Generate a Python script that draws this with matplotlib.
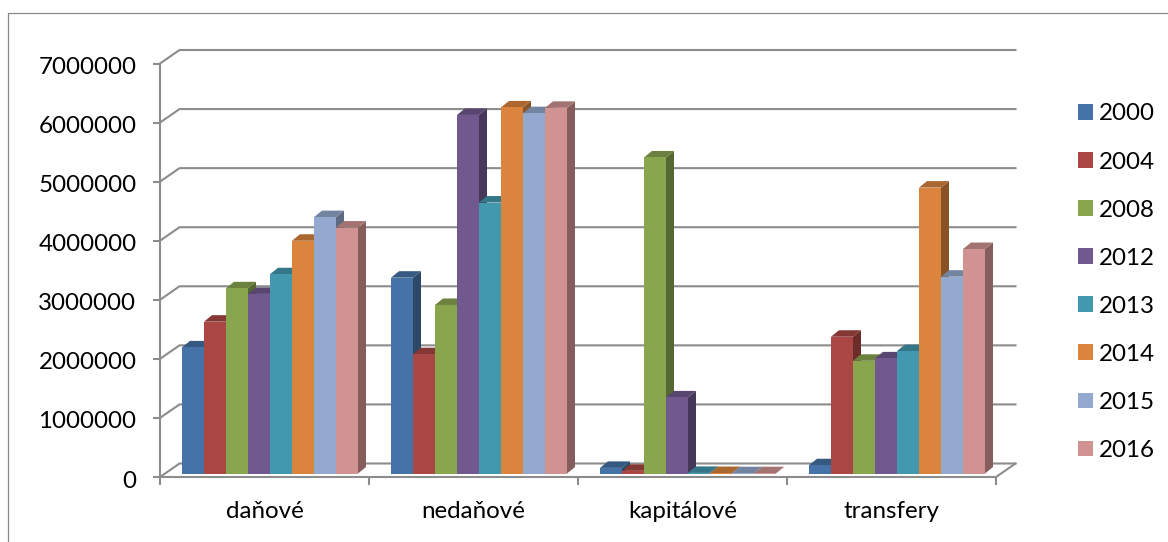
import matplotlib
matplotlib.use('Agg')
import matplotlib.pyplot as plt
import matplotlib.colors as mcolors
from matplotlib.lines import Line2D
from matplotlib.patches import Patch, Polygon
from matplotlib.transforms import Affine2D, IdentityTransform

categories = ['daňové', 'nedaňové', 'kapitálové', 'transfery']
years = ['2000', '2004', '2008', '2012', '2013', '2014', '2015', '2016']
colors = ['#4572A7', '#AA4643', '#89A54E', '#71588F', '#4198AF', '#DB843D', '#93A9CF', '#D19392']

v2000 = [2135000, 3315000, 95000, 140000]
v2004 = [2570000, 2020000, 45000, 2315000]
v2008 = [3135000, 2853000, 5350000, 1908000]
v2012 = [3040000, 6070000, 1288000, 1949000]
v2013 = [3373000, 4587000, 10000, 2073000]
v2014 = [3940000, 6197000, 8000, 4840000]
v2015 = [4340000, 6100000, 5000, 3332000]
v2016 = [4163000, 6190000, 5000, 3800000]
series = [v2000, v2004, v2008, v2012, v2013, v2014, v2015, v2016]

W, H = 1168, 542
GREY = '#8c8c8c'
FONT_SIZE = 17.4
plt.rcParams['font.family'] = ['Lato', 'Open Sans', 'DejaVu Sans']

fig = plt.figure(figsize=(W / 100, H / 100), dpi=100)
ax = fig.add_axes([160 / W, (H - 477) / H, 836 / W, 413.5 / H])
ax.set_xlim(0, 4)
ax.set_ylim(0, 7000000)

# chart border, only top and left show up in the screenshot
fig.add_artist(Line2D([7.5 / W, 7.5 / W, 1], [0, (H - 12.5) / H, (H - 12.5) / H], color='#8a8a8a', lw=0.9))

for s in ['top', 'right']:
    ax.spines[s].set_visible(False)
for s in ['left', 'bottom']:
    ax.spines[s].set_color(GREY)
    ax.spines[s].set_linewidth(1.5)

yticks = list(range(0, 7000001, 1000000))
ax.set_yticks(yticks)
ax.set_yticklabels([str(t) for t in yticks])
ax.set_xticks(range(5))
ax.set_xticklabels([])
ax.set_xticks([i + 0.5 for i in range(4)], minor=True)
ax.set_xticklabels(categories, minor=True)
ax.tick_params(axis='y', length=5, width=1.5, color=GREY, pad=12, labelsize=FONT_SIZE, labelcolor='black')
ax.tick_params(axis='x', which='major', length=5.5, width=1.5, color=GREY)
ax.tick_params(axis='x', which='minor', length=0, pad=17, labelsize=FONT_SIZE, labelcolor='black')

# labels sit a bit lower than lato centres them
for label in ax.get_yticklabels():
    label.set_transform(label.get_transform() + Affine2D().translate(0, -2))

# back wall gridlines with the diagonal running in from the value axis
WALL_DX, WALL_DY = 19.5, 13.5
for t in yticks:
    x0, y0 = ax.transData.transform((0, t))
    x1, y1 = ax.transData.transform((4, t))
    ax.plot([x0, x0 + WALL_DX, x1 + WALL_DX], [y0, y0 + WALL_DY, y0 + WALL_DY],
            transform=IdentityTransform(), color=GREY, lw=1.5, clip_on=False, zorder=1)
x1, y1 = ax.transData.transform((4, 0))
ax.plot([x1, x1 + WALL_DX], [y1, y1 + WALL_DY], transform=IdentityTransform(),
        color=GREY, lw=1.5, clip_on=False, zorder=1)

# bars stand in the middle of the floor, so shift them off the axis plane
BAR_DX, BAR_DY = 5.5, 3.5
DEPTH_X, DEPTH_Y = 8, 6.5
bar_w = 22 / 209
front = ax.transData + Affine2D().translate(BAR_DX, BAR_DY)


def shade(color, f):
    r, g, b = mcolors.to_rgb(color)
    return (r * f, g * f, b * f)


zo = 3
for cat in range(len(categories)):
    for k, values in enumerate(series):
        left = cat + 0.5 + (k - 4) * bar_w
        val = values[cat]
        (xa, ya), (xb, yb) = front.transform([(left, 0), (left + bar_w, val)])
        top = [(xa, yb), (xb, yb), (xb + DEPTH_X, yb + DEPTH_Y), (xa + DEPTH_X, yb + DEPTH_Y)]
        side = [(xb, ya), (xb + DEPTH_X, ya + DEPTH_Y), (xb + DEPTH_X, yb + DEPTH_Y), (xb, yb)]
        ax.add_patch(Polygon(side, closed=True, transform=IdentityTransform(), fc=shade(colors[k], 0.63),
                             ec='none', clip_on=False, zorder=zo))
        ax.add_patch(Polygon(top, closed=True, transform=IdentityTransform(), fc=shade(colors[k], 0.78),
                             ec='none', clip_on=False, zorder=zo))
        ax.bar(left, val, width=bar_w, align='edge', color=colors[k], transform=front,
               clip_on=False, zorder=zo + 0.5)
        zo += 1

handles = [Patch(facecolor=c, edgecolor='none', label=y) for c, y in zip(colors, years)]
fig.legend(handles=handles, loc='upper left', bbox_to_anchor=(1078 / W, (H - 103.5) / H), frameon=False,
           fontsize=FONT_SIZE, handlelength=0.62, handleheight=0.62, handletextpad=0.25, labelspacing=1.12,
           borderpad=0, borderaxespad=0)

fig.savefig('out.png', dpi=100)
